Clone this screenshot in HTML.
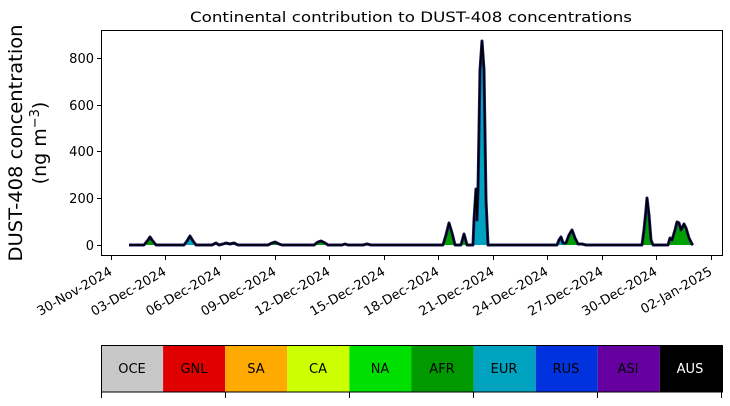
<!DOCTYPE html>
<html><head><meta charset="utf-8"><style>
body{margin:0;background:#fff;width:730px;height:402px;overflow:hidden;font-family:"DejaVu Sans",sans-serif}
</style></head><body>
<svg width="730" height="402" xmlns="http://www.w3.org/2000/svg" font-family="DejaVu Sans, sans-serif">
<text x="411" y="22" font-size="14.5" text-anchor="middle" textLength="442" lengthAdjust="spacingAndGlyphs">Continental contribution to DUST-408 concentrations</text>
<path fill="#00a000" d="M129,245 L144,245 L148,240 L150,237 L152,240 L156,245 L184,245 L187,241 L190,236 L193,241 L196,245 L212,245 L216,243 L219,245 L223,244 L226,243 L230,244 L234,243 L238,245 L268,245 L272,243 L275,242 L279,244 L282,245 L314,245 L318,242 L321,241 L325,243 L328,245 L342,245 L345,244 L348,245 L363,245 L367,244 L371,245 L443,245 L446,235 L449,223 L452,233 L455,245 L461,245 L464,234 L467,245 L473,245 L474,220 L476,189 L477,220 L478,190 L480,70 L482,41 L484,70 L486,200 L488,245 L557,245 L559,240 L561,237 L563,243 L566,243 L569,235 L572,230 L575,238 L578,244 L582,244 L586,245 L600,245 L642,245 L644,230 L646,210 L647,198 L649,215 L651,240 L653,245 L668,245 L670,238 L672,240 L675,230 L677,222 L679,223 L681,230 L684,224 L686,228 L689,238 L692,244 L693,245 Z"/>
<path fill="#00a3bf" d="M185,245 L187,242 L190,237 L193,242 L195,245 Z M473,245 L474,222 L476,192 L477,222 L478,194 L480,72 L482,44 L484,72 L486,202 L487,245 Z M225,245 L226,244 L228,245 Z M558,245 L561,239 L563,245 Z"/>
<path fill="none" stroke="#1a1a6a" stroke-width="3" stroke-linejoin="round" d="M129,245 L144,245 L148,240 L150,237 L152,240 L156,245 L184,245 L187,241 L190,236 L193,241 L196,245 L212,245 L216,243 L219,245 L223,244 L226,243 L230,244 L234,243 L238,245 L268,245 L272,243 L275,242 L279,244 L282,245 L314,245 L318,242 L321,241 L325,243 L328,245 L342,245 L345,244 L348,245 L363,245 L367,244 L371,245 L443,245 L446,235 L449,223 L452,233 L455,245 L461,245 L464,234 L467,245 L473,245 L474,220 L476,189 L477,220 L478,190 L480,70 L482,41 L484,70 L486,200 L488,245 L557,245 L559,240 L561,237 L563,243 L566,243 L569,235 L572,230 L575,238 L578,244 L582,244 L586,245 L600,245 L642,245 L644,230 L646,210 L647,198 L649,215 L651,240 L653,245 L668,245 L670,238 L672,240 L675,230 L677,222 L679,223 L681,230 L684,224 L686,228 L689,238 L692,244 L693,245"/>
<path fill="none" stroke="#000" stroke-width="1.5" stroke-linejoin="round" d="M129,245 L144,245 L148,240 L150,237 L152,240 L156,245 L184,245 L187,241 L190,236 L193,241 L196,245 L212,245 L216,243 L219,245 L223,244 L226,243 L230,244 L234,243 L238,245 L268,245 L272,243 L275,242 L279,244 L282,245 L314,245 L318,242 L321,241 L325,243 L328,245 L342,245 L345,244 L348,245 L363,245 L367,244 L371,245 L443,245 L446,235 L449,223 L452,233 L455,245 L461,245 L464,234 L467,245 L473,245 L474,220 L476,189 L477,220 L478,190 L480,70 L482,41 L484,70 L486,200 L488,245 L557,245 L559,240 L561,237 L563,243 L566,243 L569,235 L572,230 L575,238 L578,244 L582,244 L586,245 L600,245 L642,245 L644,230 L646,210 L647,198 L649,215 L651,240 L653,245 L668,245 L670,238 L672,240 L675,230 L677,222 L679,223 L681,230 L684,224 L686,228 L689,238 L692,244 L693,245"/>
<rect x="101.5" y="30.5" width="621" height="225" fill="none" stroke="#000" stroke-width="1"/>
<g stroke="#000"><line x1="97" x2="101" y1="245.5" y2="245.5"/><line x1="97" x2="101" y1="198.5" y2="198.5"/><line x1="97" x2="101" y1="151.5" y2="151.5"/><line x1="97" x2="101" y1="105.5" y2="105.5"/><line x1="97" x2="101" y1="58.5" y2="58.5"/></g>
<g font-size="13" text-anchor="end"><text x="94" y="250">0</text><text x="94" y="203">200</text><text x="94" y="156">400</text><text x="94" y="110">600</text><text x="94" y="63">800</text></g>
<text transform="translate(22,143) rotate(-90)" font-size="19" text-anchor="middle" textLength="237" lengthAdjust="spacingAndGlyphs">DUST-408 concentration</text>
<text transform="translate(46,143) rotate(-90)" font-size="19" text-anchor="middle">(ng m<tspan font-size="13" dy="-7">−3</tspan><tspan dy="7">)</tspan></text>
<g stroke="#000">
<line x1="111.5" x2="111.5" y1="256" y2="260"/><line x1="165.5" x2="165.5" y1="256" y2="260"/><line x1="220.5" x2="220.5" y1="256" y2="260"/><line x1="275.5" x2="275.5" y1="256" y2="260"/><line x1="329.5" x2="329.5" y1="256" y2="260"/><line x1="384.5" x2="384.5" y1="256" y2="260"/><line x1="438.5" x2="438.5" y1="256" y2="260"/><line x1="493.5" x2="493.5" y1="256" y2="260"/><line x1="547.5" x2="547.5" y1="256" y2="260"/><line x1="602.5" x2="602.5" y1="256" y2="260"/><line x1="656.5" x2="656.5" y1="256" y2="260"/><line x1="711.5" x2="711.5" y1="256" y2="260"/>
</g>
<g font-size="13" text-anchor="end">
<text transform="translate(113,274) rotate(-30)">30-Nov-2024</text>
<text transform="translate(167,274) rotate(-30)">03-Dec-2024</text>
<text transform="translate(222,274) rotate(-30)">06-Dec-2024</text>
<text transform="translate(277,274) rotate(-30)">09-Dec-2024</text>
<text transform="translate(331,274) rotate(-30)">12-Dec-2024</text>
<text transform="translate(386,274) rotate(-30)">15-Dec-2024</text>
<text transform="translate(440,274) rotate(-30)">18-Dec-2024</text>
<text transform="translate(495,274) rotate(-30)">21-Dec-2024</text>
<text transform="translate(549,274) rotate(-30)">24-Dec-2024</text>
<text transform="translate(604,274) rotate(-30)">27-Dec-2024</text>
<text transform="translate(658,274) rotate(-30)">30-Dec-2024</text>
<text transform="translate(713,274) rotate(-30)">02-Jan-2025</text>
</g>
<g>
<rect x="101" y="345" width="62.1" height="47" fill="#c8c8c8"/>
<rect x="163.1" y="345" width="62.1" height="47" fill="#e00000"/>
<rect x="225.2" y="345" width="62.1" height="47" fill="#ffaa00"/>
<rect x="287.3" y="345" width="62.1" height="47" fill="#ccff00"/>
<rect x="349.4" y="345" width="62.1" height="47" fill="#00e000"/>
<rect x="411.5" y="345" width="62.1" height="47" fill="#009a00"/>
<rect x="473.6" y="345" width="62.1" height="47" fill="#00a3bf"/>
<rect x="535.7" y="345" width="62.1" height="47" fill="#0033dd"/>
<rect x="597.8" y="345" width="62.1" height="47" fill="#6600a0"/>
<rect x="659.9" y="345" width="62.1" height="47" fill="#000000"/>
<rect x="101.5" y="345.5" width="621" height="46.5" fill="none" stroke="#000"/>
</g>
<g font-size="13" text-anchor="middle">
<text x="132" y="373">OCE</text><text x="194" y="373">GNL</text><text x="256" y="373">SA</text><text x="318" y="373">CA</text><text x="380" y="373">NA</text><text x="442" y="373">AFR</text><text x="504" y="373">EUR</text><text x="566" y="373">RUS</text><text x="628" y="373">ASI</text><text x="690" y="373" fill="#fff">AUS</text>
</g>
<g stroke="#000"><line x1="101.5" x2="101.5" y1="392" y2="398"/><line x1="225.5" x2="225.5" y1="392" y2="398"/><line x1="349.5" x2="349.5" y1="392" y2="398"/><line x1="473.5" x2="473.5" y1="392" y2="398"/><line x1="597.5" x2="597.5" y1="392" y2="398"/><line x1="721.5" x2="721.5" y1="392" y2="398"/></g>
</svg>
</body></html>
